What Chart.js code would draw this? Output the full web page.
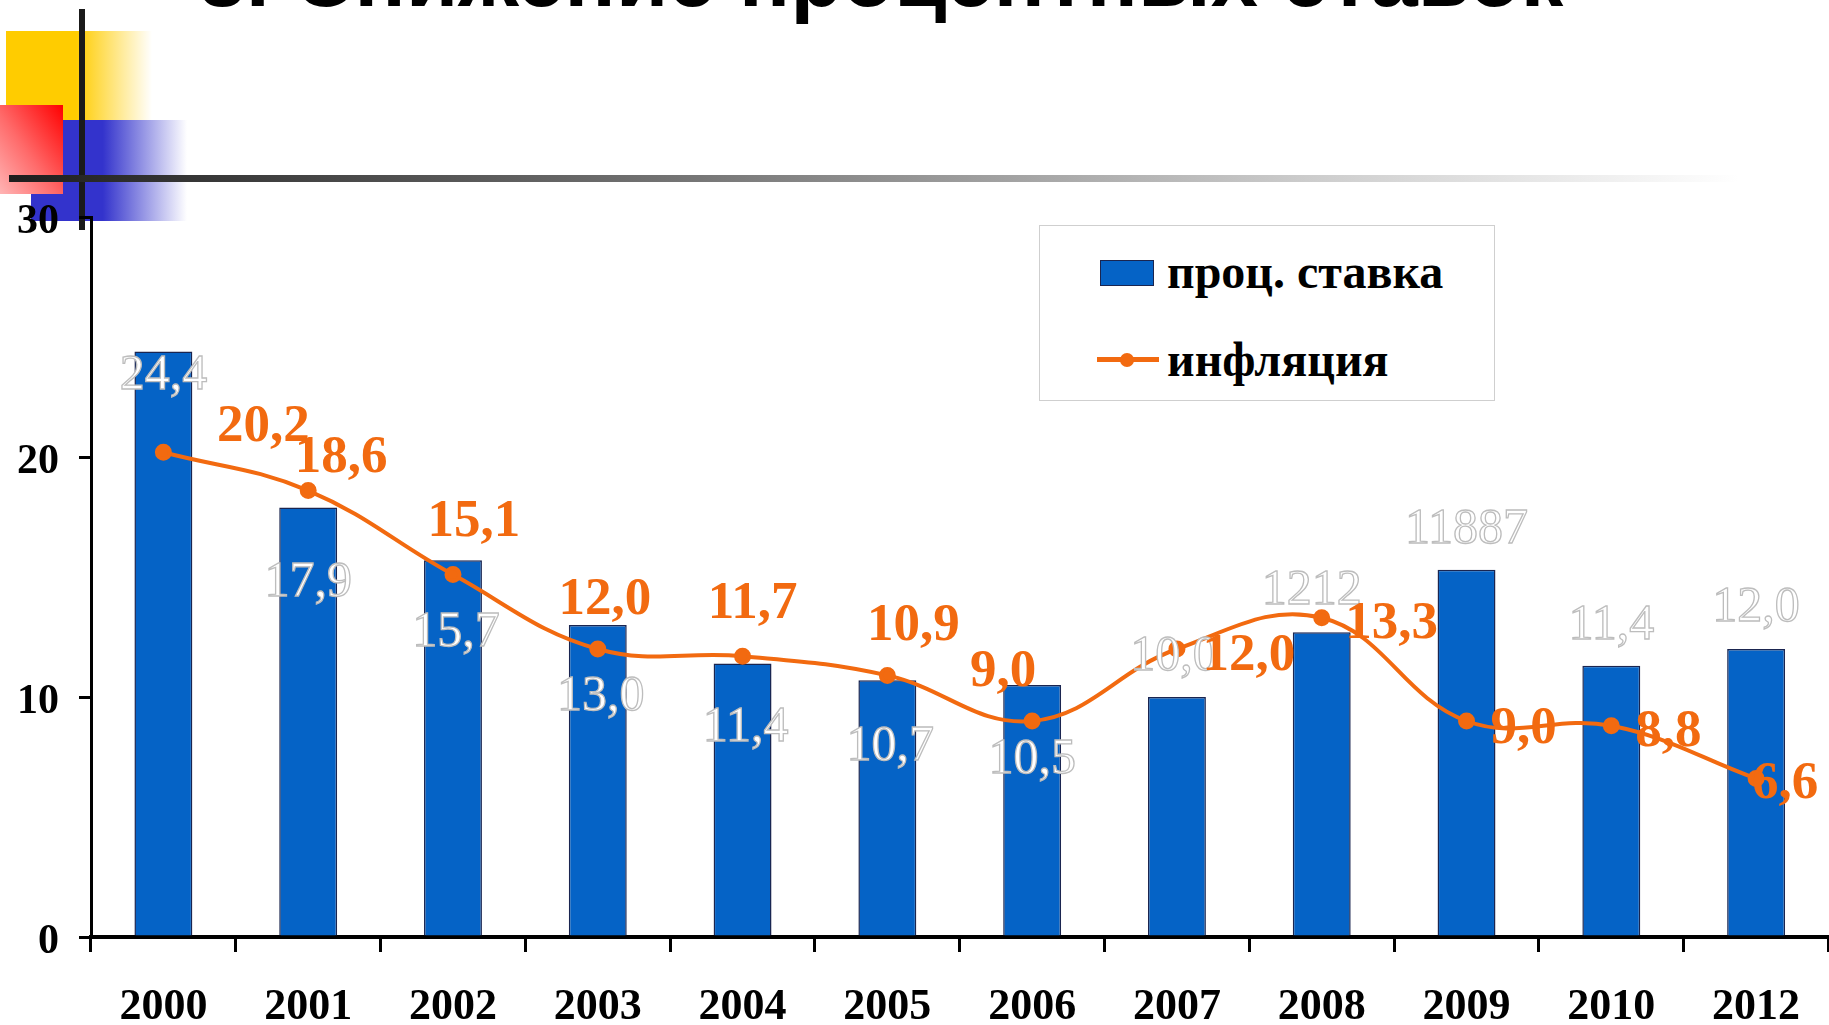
<!DOCTYPE html>
<html>
<head>
<meta charset="utf-8">
<script src="https://cdn.jsdelivr.net/npm/chart.js@4.4.0/dist/chart.umd.min.js"></script>
<style>
  body{margin:0;background:#fff;overflow:hidden;}
  #wrap{position:relative;width:1829px;height:1025px;overflow:hidden;}
  .deco{position:absolute;}
  #yellow{left:6px;top:31px;width:146px;height:89px;background:linear-gradient(to right,#ffcc00 0%,#ffcc00 48%,rgba(255,204,0,0) 100%);}
  #blue{left:31px;top:120px;width:156px;height:101px;background:linear-gradient(to right,#3333cc 0%,#3333cc 46%,rgba(51,51,204,0) 100%);}
  #red{left:0;top:105px;width:63px;height:89px;background:linear-gradient(to bottom left,#ff0000 0%,#ff6a6a 55%,#ffb4b4 100%);}
  #vline{left:79px;top:9px;width:6px;height:221px;background:#1a1a1a;}
  #hline{left:9px;top:175px;width:1730px;height:7px;background:linear-gradient(to right,#1e1e1e 0%,#777 40%,#ccc 75%,rgba(255,255,255,0) 100%);}
  #chartBox{position:absolute;left:0;top:0;width:1839px;height:1025px;}
  #legend{position:absolute;left:1039px;top:225px;width:454px;height:174px;border:1px solid #cfcfcf;background:#fff;
    font-family:"Liberation Serif","DejaVu Serif",serif;font-weight:bold;font-size:48px;line-height:50px;color:#000;}
  .sw-bar{position:absolute;left:60px;width:54px;height:26px;background:#0563c6;border:1px solid #1a2550;box-sizing:border-box;}
  .sw-line{position:absolute;left:57px;width:62px;height:5px;background:#f26a10;}
  .sw-dot{position:absolute;left:80px;width:14px;height:14px;border-radius:50%;background:#f26a10;}
  .lg-text{position:absolute;left:127px;white-space:nowrap;}
</style>
</head>
<body>
<div id="wrap">
  <div class="deco" id="yellow"></div>
  <div class="deco" id="blue"></div>
  <div class="deco" id="red"></div>
  <div class="deco" id="vline"></div>
  <div class="deco" id="hline"></div>
  <div id="chartBox"><canvas id="myChart"></canvas></div>
  <div id="legend">
    <div class="sw-bar" style="top:34px"></div>
    <div class="lg-text" style="top:21px">проц. ставка</div>
    <div class="sw-line" style="top:131px"></div>
    <div class="sw-dot" style="top:127px"></div>
    <div class="lg-text" style="top:109px">инфляция</div>
  </div>
</div>
<script>
'use strict';
// years on the x axis
const years = ['2000','2001','2002','2003','2004','2005','2006','2007','2008','2009','2010','2012'];
// interest rate (bars) and inflation (line)
const rateValues = [24.4, 17.9, 15.7, 13.0, 11.4, 10.7, 10.5, 10.0, 12.7, 15.3, 11.3, 12.0];
const inflValues = [20.2, 18.6, 15.1, 12.0, 11.7, 10.9, 9.0, 12.0, 13.3, 9.0, 8.8, 6.6];
// labels as printed on the slide
const rateLabels = ['24,4','17,9','15,7','13,0','11,4','10,7','10,5','10,0','1212','11887','11,4','12,0'];
const inflLabels = ['20,2','18,6','15,1','12,0','11,7','10,9','9,0','12,0','13,3','9,0','8,8','6,6'];
const yTicks = [0, 10, 20, 30];
const titleText = '3. Снижение процентных ставок';

// where each value label sits relative to its mark (px)
const rateLabelShift = [[0,24],[0,75],[3,73],[3,72],[3,64],[3,67],[0,75],[-3,-40],[-10,-41],[0,-40],[0,-40],[0,-41]];
const inflLabelShift = [[100,-25],[33,-32],[21,-52],[7,-49],[10,-52],[26,-49],[-29,-49],[72,7],[70,7],[57,8],[57,7],[29,6]];

const serif = '"Liberation Serif","DejaVu Serif",serif';
const barColor = '#0563c6';
const lineColor = '#f26a10';

const labelPlugin = {
  id: 'valueLabels',
  afterDatasetsDraw(chart){
    const ctx = chart.ctx;
    ctx.save();
    ctx.textAlign = 'center';
    ctx.textBaseline = 'middle';
    let barMeta = chart.getDatasetMeta(0);
    ctx.font = '50px ' + serif;
    ctx.lineWidth = 1.3;
    ctx.strokeStyle = '#bdbdbd';
    ctx.fillStyle = '#ffffff';
    for(let i=0;i<barMeta.data.length;i++){
      let el = barMeta.data[i];
      let x = el.x + rateLabelShift[i][0];
      let y = el.y + rateLabelShift[i][1];
      ctx.fillText(rateLabels[i], x, y);
      ctx.strokeText(rateLabels[i], x, y);
    }
    let lineMeta = chart.getDatasetMeta(1);
    ctx.font = 'bold 53px ' + serif;
    ctx.fillStyle = lineColor;
    for(let i=0;i<lineMeta.data.length;i++){
      let el = lineMeta.data[i];
      ctx.fillText(inflLabels[i], el.x + inflLabelShift[i][0], el.y + inflLabelShift[i][1]);
    }
    ctx.restore();
  }
};

const titlePlugin = {
  id: 'cutTitle',
  afterDraw(chart){
    const ctx = chart.ctx;
    ctx.save();
    ctx.font = 'bold 85px "Liberation Sans", Arial, sans-serif';
    ctx.fillStyle = '#000';
    ctx.textAlign = 'center';
    ctx.textBaseline = 'alphabetic';
    ctx.fillText(titleText, 881, 6);
    ctx.restore();
  }
};

const ctx = document.getElementById('myChart').getContext('2d');
const myChart = new Chart(ctx, {
  data: {
    labels: years,
    datasets: [{
      type: 'bar',
      label: 'проц. ставка',
      data: rateValues,
      backgroundColor: barColor,
      borderColor: '#1a2550',
      borderWidth: 1.5,
      barPercentage: 0.4,
      categoryPercentage: 1,
      order: 2
    },{
      type: 'line',
      label: 'инфляция',
      data: inflValues,
      borderColor: lineColor,
      backgroundColor: lineColor,
      borderWidth: 4,
      pointRadius: 6.5,
      pointHoverRadius: 6.5,
      tension: 0.4,
      order: 1
    }]
  },
  options: {
    responsive: true,
    maintainAspectRatio: false,
    animation: false,
    layout: { padding: { top: 217, right: 0, left: 0, bottom: 0 } },
    plugins: {
      legend: { display: false },
      tooltip: { enabled: false }
    },
    scales: {
      x: {
        offset: true,
        grid: { offset: true, drawOnChartArea: false, drawTicks: true, tickLength: 15, color: '#000', lineWidth: 3 },
        border: { color: '#000', width: 4 },
        ticks: { color: '#000', font: { family: serif, size: 44, weight: 'bold' }, padding: 29, maxRotation: 0 },
        afterFit(scale){ scale.height = 88; }
      },
      y: {
        min: 0,
        max: 30,
        afterBuildTicks(scale){ scale.ticks = yTicks.map(v => ({ value: v })); },
        grid: { drawOnChartArea: false, drawTicks: true, tickLength: 12, color: '#000', lineWidth: 3 },
        border: { color: '#000', width: 3 },
        ticks: { color: '#000', font: { family: serif, size: 42, weight: 'bold' }, padding: 20, labelOffset: 5 },
        afterFit(scale){ scale.width = 91; }
      }
    }
  },
  plugins: [labelPlugin, titlePlugin]
});
</script>
</body>
</html>
